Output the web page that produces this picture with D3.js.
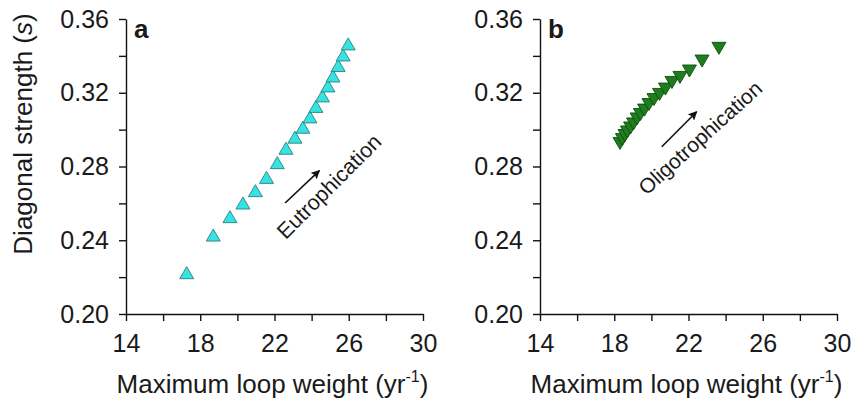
<!DOCTYPE html>
<html>
<head>
<meta charset="utf-8">
<script src="https://cdn.jsdelivr.net/npm/d3@7"></script>
<style>
  html, body { margin: 0; padding: 0; background: #fff; }
  svg { display: block; }
  text { font-family: "Liberation Sans", Arial, sans-serif; fill: #1a1a1a; }
</style>
</head>
<body>
<svg id="chart" width="855" height="402"></svg>
<script>
// Axis ticks (labels every 0.04 / every 4 units, minor ticks in between)
const xTickValues = [14, 16, 18, 20, 22, 24, 26, 28, 30];
const xTickLabels = ["14", "", "18", "", "22", "", "26", "", "30"];
const yTickValues = [0.20, 0.22, 0.24, 0.26, 0.28, 0.30, 0.32, 0.34, 0.36];
const yTickLabels = ["0.20", "", "0.24", "", "0.28", "", "0.32", "", "0.36"];

// Panel a: eutrophication scenario
const eutroLoop = [17.27, 18.70, 19.60, 20.30, 20.97, 21.57, 22.15, 22.62, 23.10,
                   23.53, 23.91, 24.23, 24.58, 24.88, 25.15, 25.43, 25.70, 25.97];
const eutroDiag = [0.2224, 0.2428, 0.2528, 0.2602, 0.2669, 0.2741, 0.2821, 0.2899, 0.2959,
                   0.3013, 0.3069, 0.3126, 0.3183, 0.3237, 0.3291, 0.3348, 0.3405, 0.3465];

// Panel b: oligotrophication scenario
const oligoLoop = [18.31, 18.44, 18.58, 18.71, 18.88, 19.04, 19.23, 19.41, 19.63,
                   19.87, 20.14, 20.44, 20.76, 21.11, 21.54, 22.05, 22.73, 23.64];
const oligoDiag = [0.2925, 0.2946, 0.2968, 0.2987, 0.3009, 0.3031, 0.3058, 0.3082, 0.3106,
                   0.3136, 0.3163, 0.3191, 0.3220, 0.3256, 0.3283, 0.3318, 0.3372, 0.3441];

const panels = [
  { letter: "a", left: 126, loop: eutroLoop, diag: eutroDiag, down: false,
    fill: "#35e3e0", stroke: "#2c8080", yTitle: true,
    note: "Eutrophication", noteSize: 21.5, noteAngle: -45,
    arrow: [[22.57, 0.2602], [24.42, 0.2778]], noteAt: [22.60, 0.2400] },
  { letter: "b", left: 540, loop: oligoLoop, diag: oligoDiag, down: true,
    fill: "#1e7d1e", stroke: "#0f4f0f", yTitle: false,
    note: "Oligotrophication", noteSize: 21, noteAngle: -42,
    arrow: [[20.56, 0.2907], [22.44, 0.3097]], noteAt: [19.74, 0.2640] }
];

const svg = d3.select("#chart");
const plotTop = 19, plotBottom = 314, plotW = 297;

const defs = svg.append("defs");
defs.append("marker")
  .attr("id", "head")
  .attr("viewBox", "0 0 10 10")
  .attr("refX", 9).attr("refY", 5)
  .attr("markerWidth", 9).attr("markerHeight", 9)
  .attr("markerUnits", "userSpaceOnUse")
  .attr("orient", "auto")
  .append("path").attr("d", "M0,0 L10,5 L0,10 L2,5 Z").attr("fill", "#111");

const tri = (w, h, down) => down
  ? `M${-w / 2},${-h / 2} L${w / 2},${-h / 2} L0,${h / 2} Z`
  : `M${-w / 2},${h / 2} L${w / 2},${h / 2} L0,${-h / 2} Z`;

panels.forEach(p => {
  const x = d3.scaleLinear().domain([14, 30]).range([p.left, p.left + plotW]);
  const y = d3.scaleLinear().domain([0.20, 0.36]).range([plotBottom, plotTop]);
  const g = svg.append("g");

  const xAxis = d3.axisBottom(x).tickValues(xTickValues)
    .tickFormat((d, i) => xTickLabels[i]).tickSize(7).tickPadding(13).tickSizeOuter(0);
  const yAxis = d3.axisLeft(y).tickValues(yTickValues)
    .tickFormat((d, i) => yTickLabels[i]).tickSize(7).tickPadding(10).tickSizeOuter(0);

  const gx = g.append("g").attr("transform", `translate(0,${plotBottom})`).call(xAxis);
  const gy = g.append("g").attr("transform", `translate(${p.left},0)`).call(yAxis);
  [gx, gy].forEach(a => {
    a.select(".domain").attr("stroke", "#111").attr("stroke-width", 1.4);
    a.selectAll(".tick line").attr("stroke", "#111").attr("stroke-width", 1.4);
    a.selectAll(".tick text").attr("font-size", 25).attr("fill", "#1a1a1a")
      .attr("font-family", "Liberation Sans, Arial, sans-serif");
  });

  // Points
  g.append("g").selectAll("path")
    .data(p.loop.map((v, i) => [v, p.diag[i]]))
    .join("path")
    .attr("transform", d => `translate(${x(d[0])},${y(d[1])})`)
    .attr("d", tri(14, 12, p.down))
    .attr("fill", p.fill)
    .attr("stroke", p.stroke)
    .attr("stroke-width", 0.9);

  // Direction arrow and label
  g.append("line")
    .attr("x1", x(p.arrow[0][0])).attr("y1", y(p.arrow[0][1]))
    .attr("x2", x(p.arrow[1][0])).attr("y2", y(p.arrow[1][1]))
    .attr("stroke", "#111").attr("stroke-width", 1.6)
    .attr("marker-end", "url(#head)");
  g.append("text")
    .attr("transform", `translate(${x(p.noteAt[0])},${y(p.noteAt[1])}) rotate(${p.noteAngle})`)
    .attr("font-size", p.noteSize)
    .text(p.note);

  // Panel letter
  g.append("text")
    .attr("x", p.left + 8).attr("y", 38)
    .attr("font-size", 26).attr("font-weight", "bold")
    .text(p.letter);

  // x-axis title
  const xt = g.append("text")
    .attr("x", p.left + plotW / 2 - 2).attr("y", 393)
    .attr("text-anchor", "middle").attr("font-size", 26);
  xt.append("tspan").text("Maximum loop weight (yr");
  xt.append("tspan").attr("font-size", 16).attr("dy", -11).text("-1");
  xt.append("tspan").attr("dy", 11).text(")");

  if (p.yTitle) {
    const yt = g.append("text")
      .attr("transform", `translate(32,134) rotate(-90)`)
      .attr("text-anchor", "middle").attr("font-size", 26);
    yt.append("tspan").text("Diagonal strength (");
    yt.append("tspan").attr("font-style", "italic").text("s");
    yt.append("tspan").text(")");
  }
});
</script>
</body>
</html>
